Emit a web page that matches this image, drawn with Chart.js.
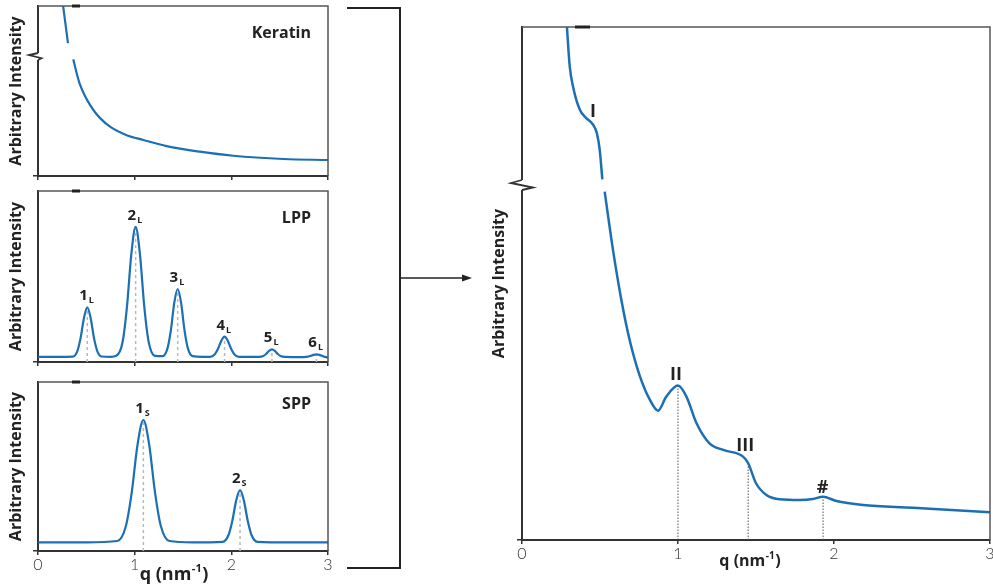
<!DOCTYPE html>
<html>
<head>
<meta charset="utf-8">
<script src="https://cdn.jsdelivr.net/npm/chart.js@4.4.0/dist/chart.umd.min.js"></script>
<style>
  html, body { margin: 0; padding: 0; background: #fff; }
  body { width: 993px; height: 587px; position: relative; overflow: hidden; }
  canvas, svg { position: absolute; }
</style>
</head>
<body>
<canvas id="keratin" width="335" height="186" style="left:0;top:0"></canvas>
<canvas id="lpp" width="335" height="187" style="left:0;top:185px"></canvas>
<canvas id="spp" width="335" height="211" style="left:0;top:376px"></canvas>
<canvas id="main" width="513" height="587" style="left:480px;top:0"></canvas>
<svg width="993" height="587" style="left:0;top:0;pointer-events:none">
  <path d="M347 8 H400 V568 H347" fill="none" stroke="#222" stroke-width="2"/>
  <line x1="400" y1="278" x2="464" y2="278" stroke="#222" stroke-width="1.5"/>
  <polygon points="472,278 462,274.5 462,281.5" fill="#222"/>
</svg>
<script>
// q (nm^-1) vs arbitrary intensity (0-100 of each panel)
var kerQ = [0.26, 0.31, 0.335, 0.365, 0.40, 0.43, 0.486, 0.538, 0.59, 0.64, 0.745, 0.917, 1.09, 1.33, 1.675, 2.02, 2.54, 3.0];
var kerV = [100, 78.1, null, 68.6, 60.4, 54.5, 47.0, 41.8, 37.5, 34.2, 29, 24, 21.2, 17.6, 14.3, 11.9, 10, 9.4];

var lppQ = [0, 0.36, 0.405, 0.44, 0.475, 0.51, 0.545, 0.58, 0.615, 0.66, 0.75,
            0.81, 0.875, 0.92, 0.965, 1.01, 1.055, 1.1, 1.145, 1.21,
            1.29, 1.34, 1.375, 1.41, 1.445, 1.48, 1.515, 1.55, 1.6, 1.7,
            1.78, 1.825, 1.86, 1.895, 1.93, 1.965, 2.0, 2.035, 2.08,
            2.29, 2.33, 2.36, 2.39, 2.42, 2.45, 2.48, 2.51, 2.55,
            2.75, 2.79, 2.82, 2.85, 2.88, 2.91, 2.94, 2.97, 3.0];
var lppV = [3.0, 3.2, 6.1, 13.8, 25.6, 32, 25.6, 13.8, 6.1, 3.2, 3.0,
            3.6, 11.7, 32.1, 62.8, 79, 62.8, 32.1, 11.7, 3.6,
            3.4, 8.1, 18.8, 34.7, 42.7, 34.7, 18.8, 8.1, 3.4, 3.0,
            3.0, 4.2, 7.4, 12.2, 14.8, 12.2, 7.4, 4.2, 3.0,
            3.0, 3.5, 4.7, 6.5, 7.4, 6.5, 4.7, 3.5, 3.0,
            2.9, 3.1, 3.6, 4.2, 4.5, 4.2, 3.6, 3.0, 2.6];
var lppPeakQ = [0.51, 1.01, 1.445, 1.93, 2.42, 2.88];
var lppPeakV = [32, 79, 42.7, 14.8, 7.4, 4.5];
var lppPeakNum = ['1', '2', '3', '4', '5', '6'];

var sppQ = [0, 0.5, 0.82, 0.91, 0.97, 1.03, 1.09, 1.15, 1.21, 1.27, 1.36, 1.6,
            1.91, 1.97, 2.01, 2.05, 2.09, 2.13, 2.17, 2.21, 2.27, 2.6, 3.0];
var sppV = [5.1, 5.1, 5.9, 14.9, 34.8, 63.0, 77.5, 63.0, 34.8, 14.9, 5.9, 5.1,
            5.4, 9.3, 17.8, 29.8, 36, 29.8, 17.8, 9.3, 5.4, 5.1, 5.1];
var sppPeakQ = [1.09, 2.09];
var sppPeakV = [77.5, 36];
var sppPeakNum = ['1', '2'];

var mainQ = [0.288, 0.306, 0.327, 0.37, 0.41, 0.455, 0.48, 0.498, 0.515, 0.522, 0.53, 0.583, 0.637,
             0.69, 0.755, 0.82, 0.872, 0.925, 1.0, 1.054, 1.118, 1.2, 1.29, 1.417, 1.45,
             1.5, 1.567, 1.652, 1.78, 1.865, 1.93, 2.015, 2.186, 2.506, 3.0];
var mainV = [100, 92.3, 88.4, 83.9, 82.3, 81.0, 79.3, 76.1, 70.3, null, 67.9, 56.6, 46.8,
             39.0, 32.0, 27.3, 25.2, 27.95, 30.1, 27.95, 22.8, 18.9, 17.55, 16.25, 14.96,
             11.06, 8.78, 7.94, 7.8, 8.0, 8.45, 7.6, 6.83, 6.3, 5.4];
var mainLabelQ = [0.455, 1.0, 1.45, 1.93];
var mainLabelV = [81.0, 30.1, 14.96, 8.45];
var mainLabels = ['I', 'II', 'III', '#'];
var mainDropQ = [1.0, 1.45, 1.93];
var mainDropV = [30.1, 14.96, 8.45];

var blue = '#1c6fb5';
var boldFace = '"Open Sans"';
Chart.defaults.font.family = 'Lato';

function qTitle(ctx, cx, base, size) {
    var big = 'bold ' + size + 'px ' + boldFace, small = 'bold ' + Math.round(size * 0.6) + 'px ' + boldFace;
    ctx.font = big;
    var w1 = ctx.measureText('q (nm').width, w3 = ctx.measureText(')').width;
    ctx.font = small;
    var w2 = ctx.measureText('-1').width + 1;
    var x = cx - (w1 + w2 + w3) / 2;
    ctx.textAlign = 'left';
    ctx.textBaseline = 'alphabetic';
    ctx.fillStyle = '#222';
    ctx.font = big; ctx.fillText('q (nm', x, base);
    ctx.font = small; ctx.fillText('-1', x + w1 + 0.5, base - size * 0.45);
    ctx.font = big; ctx.fillText(')', x + w1 + w2, base);
}

var decor = {
    id: 'decor',
    afterDraw: function (chart, args, o) {
        var ctx = chart.ctx, a = chart.chartArea, xs = chart.scales.x, ys = chart.scales.y;
        ctx.save();
        // top and right edge of the frame
        ctx.strokeStyle = '#555';
        ctx.lineWidth = 1.5;
        ctx.beginPath();
        ctx.moveTo(a.left, a.top);
        ctx.lineTo(a.right, a.top);
        ctx.lineTo(a.right, a.bottom);
        ctx.stroke();
        ctx.strokeStyle = '#222';
        ctx.lineWidth = 3;
        ctx.beginPath();
        ctx.moveTo(a.left + o.dash[0], a.top);
        ctx.lineTo(a.left + o.dash[1], a.top);
        ctx.stroke();
        // axis break
        if (o.brk) {
            var y0 = a.top + o.brk[0], h = o.brk[1], wl = o.brk[2], wr = o.brk[3];
            ctx.fillStyle = '#fff';
            ctx.fillRect(a.left - 2, y0, 4, h);
            ctx.strokeStyle = '#333';
            ctx.lineWidth = 1.8;
            ctx.beginPath();
            ctx.moveTo(a.left, y0);
            ctx.lineTo(a.left - wl, y0 + h * 0.3);
            ctx.lineTo(a.left + wr, y0 + h * 0.75);
            ctx.lineTo(a.left, y0 + h);
            ctx.stroke();
        }
        ctx.fillStyle = '#222';
        ctx.textBaseline = 'alphabetic';
        if (o.name) {
            ctx.font = 'bold 16px ' + boldFace;
            ctx.textAlign = 'right';
            ctx.fillText(o.name, a.right - 17, a.top + o.nameY);
        }
        // peak labels with subscript
        if (o.peaks) {
            o.peaks.q.forEach(function (q, i) {
                var x = xs.getPixelForValue(q), y = ys.getPixelForValue(o.peaks.v[i]);
                ctx.font = 'bold 15px ' + boldFace;
                ctx.textAlign = 'right';
                ctx.fillText(o.peaks.num[i], x + 0.5, y - 7);
                ctx.font = 'bold 9px ' + boldFace;
                ctx.textAlign = 'left';
                ctx.fillText(o.peaks.sub, x + 1.5, y - 4);
            });
        }
        if (o.marks) {
            ctx.font = 'bold 18px ' + boldFace;
            ctx.textAlign = 'center';
            o.marks.q.forEach(function (q, i) {
                var x = xs.getPixelForValue(q), y = ys.getPixelForValue(o.marks.v[i]);
                var off = o.marks.off[i];
                ctx.fillText(o.marks.text[i], x + off[0], y + off[1]);
            });
        }
        if (o.qTitle) {
            qTitle(ctx, (a.left + a.right) / 2 + o.qTitle[0], a.bottom + o.qTitle[1], o.qTitle[2]);
        }
        ctx.restore();
    }
};

function makeChart(id, q, v, drops, lw, deco, showTicks, yW, xH, titlePad, pad) {
    var sets = [{
        data: q.map(function (x, i) { return {x: x, y: v[i]}; }),
        borderColor: blue,
        borderWidth: lw,
        pointRadius: 0,
        cubicInterpolationMode: 'monotone',
        order: 0
    }];
    drops.q.forEach(function (x, i) {
        sets.push({
            data: [{x: x, y: 0}, {x: x, y: drops.v[i]}],
            borderColor: drops.color,
            borderWidth: drops.w,
            borderDash: drops.dash,
            pointRadius: 0,
            order: 1
        });
    });
    return new Chart(document.getElementById(id), {
        type: 'line',
        data: { datasets: sets },
        options: {
            responsive: false,
            animation: false,
            events: [],
            layout: { padding: pad },
            plugins: { legend: { display: false }, tooltip: { enabled: false }, decor: deco },
            scales: {
                x: {
                    type: 'linear', min: 0, max: 3,
                    ticks: { stepSize: 1, display: showTicks, padding: 0, color: '#333', font: { size: 16, weight: '300' } },
                    grid: { display: true, drawOnChartArea: false, tickLength: 4, color: '#333', lineWidth: 1.5 },
                    border: { display: true, color: '#333', width: 2 },
                    afterFit: function (s) { s.height = xH; s.paddingLeft = 0; s.paddingRight = 0; }
                },
                y: {
                    min: 0, max: 100,
                    ticks: { display: false },
                    afterBuildTicks: function (s) { s.ticks = [{ value: 0 }]; },
                    grid: { display: true, drawOnChartArea: false, tickLength: 5, color: '#333', lineWidth: 1.5 },
                    border: { display: true, color: '#333', width: 2 },
                    title: {
                        display: true, text: 'Arbitrary Intensity', color: '#222',
                        font: { family: boldFace, size: 16, weight: 'bold' }, padding: { top: titlePad, bottom: 0 }
                    },
                    afterFit: function (s) { s.width = yW; }
                }
            }
        },
        plugins: [decor]
    });
}

var smallDrops = { color: '#b8b8b8', w: 1.5, dash: [3, 3] };

makeChart('keratin', kerQ, kerV, { q: [], v: [] }, 2.2,
    { name: 'Keratin', nameY: 32, dash: [34, 42], brk: [47, 7, 9, 3.5] },
    false, 38, 10, 7, { top: 6, right: 7 });

makeChart('lpp', lppQ, lppV, Object.assign({ q: lppPeakQ, v: lppPeakV }, smallDrops), 2.2,
    { name: 'LPP', nameY: 32, dash: [34, 42], peaks: { q: lppPeakQ, v: lppPeakV, num: lppPeakNum, sub: 'L' } },
    false, 38, 10, 7, { top: 6, right: 7 });

makeChart('spp', sppQ, sppV, Object.assign({ q: sppPeakQ, v: sppPeakV }, smallDrops), 2.2,
    { name: 'SPP', nameY: 27, dash: [34, 42], peaks: { q: sppPeakQ, v: sppPeakV, num: sppPeakNum, sub: 'S' },
      qTitle: [-9, 29, 18] },
    true, 38, 36, 7, { top: 6, right: 7 });

makeChart('main', mainQ, mainV, { q: mainDropQ, v: mainDropV, color: '#555', w: 1, dash: [1.5, 1.5] }, 2.5,
    { dash: [53, 68], brk: [153, 10, 11, 11],
      marks: { q: mainLabelQ, v: mainLabelV, text: mainLabels, off: [[0, -7], [-2, -6], [-3, -12], [-0.5, -3.5]] },
      qTitle: [-6, 26, 16] },
    true, 42, 47, 10, { top: 27, right: 3 });
</script>
</body>
</html>
